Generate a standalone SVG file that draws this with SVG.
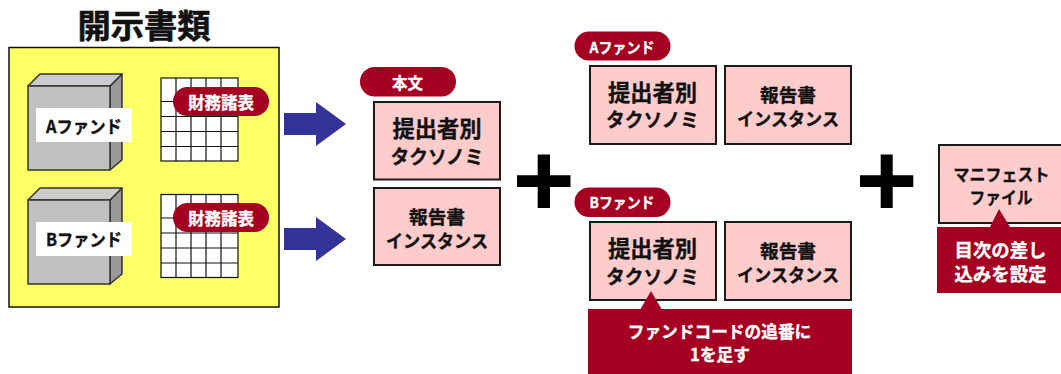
<svg xmlns="http://www.w3.org/2000/svg" width="1061" height="374" viewBox="0 0 1061 374">
<style>
text{font-family:"Noto Sans CJK JP","Noto Sans",sans-serif;font-weight:700;text-anchor:middle;fill:#111;stroke:#111;stroke-width:.35px}
.w{fill:#fff;stroke:#fff}
.pill{fill:#a50021}
.box{fill:#ffcccc;stroke:#1a1a1a;stroke-width:2}
.t1{font-size:22.3px}
.t1k{font-size:19.300px}
.t2{font-size:18.700px}
.t2k{font-size:17.800px}
.p{font-size:16.500px}
.pk{font-size:15px}
.n{font-size:16.700px}
.m{font-size:18.400px}
.f{font-size:17.500px}
.mf{font-size:17px}
.cube{stroke:#333;stroke-width:1.5;stroke-linejoin:round}
.grid{fill:#fff;stroke:#111;stroke-width:1.2}
.grid path{fill:none}
.arrow{fill:#333399}
</style>
<defs>
<g id="grid-shape" class="grid">
<rect x="161" y="0" width="77" height="83"/>
<path d="M176 0V83M191 0V83M206 0V83M221 0V83M161 23.5H238M161 38.5H238M161 53.5H238M161 68.5H238"/>
</g>
<g id="cube-shape" class="cube">
<path d="M110 12L122 0V86L110 96Z" fill="#999999"/>
<path d="M28 12L40 0H122L110 12Z" fill="#cccccc"/>
<rect x="28" y="12" width="82" height="84" fill="#c0c0c0"/>
</g>
</defs>
<g id="title"><text x="144" y="37.500" style="font-size:33.300px;stroke-width:.6px">開示書類</text></g>
<g id="disclosure"><rect x="9" y="47.500" width="270" height="259.500" fill="#ffff66" stroke="#111" stroke-width="1.500"/></g>
<g id="fund-a">
<use href="#cube-shape" y="74"/>
<rect x="36" y="108" width="96" height="34" fill="#fff"/>
<text class="f" x="84" y="133" textLength="76" lengthAdjust="spacingAndGlyphs">Aファンド</text>
</g>
<g id="fund-b">
<use href="#cube-shape" y="188"/>
<rect x="36" y="222" width="96" height="34" fill="#fff"/>
<text class="f" x="84" y="246" textLength="76" lengthAdjust="spacingAndGlyphs">Bファンド</text>
</g>
<g id="statement-a">
<use href="#grid-shape" y="78"/>
<rect class="pill" x="173" y="87" width="96" height="29" rx="14.500"/>
<text class="w p" x="221" y="109.300">財務諸表</text>
</g>
<g id="statement-b">
<use href="#grid-shape" y="194.500"/>
<rect class="pill" x="173" y="203" width="96" height="29" rx="14.500"/>
<text class="w p" x="221" y="225">財務諸表</text>
</g>
<g id="connectors">
<path class="arrow" d="M284 113H316V102L346 124L316 146V135H284Z"/>
<path class="arrow" d="M284 228H316V217L346 239L316 261V250H284Z"/>
<path d="M537.700 154.500H550V175.300H570.500V187H550V208H537.700V187H517V175.300H537.700Z" fill="#000"/>
<path d="M880.700 154.500H892.700V175.300H913.300V187H892.700V208H880.700V187H860V175.300H880.700Z" fill="#000"/>
</g>
<g id="honbun-label">
<rect class="pill" x="360" y="67" width="96" height="29.500" rx="14.700"/>
<text class="w" style="font-size:15.500px" x="407.500" y="89">本文</text>
</g>
<g id="taxonomy-main">
<rect class="box" x="374" y="102" width="126" height="77.500"/>
<text class="t1" x="437" y="137">提出者別</text><text class="t1k" x="437" y="163.500" textLength="93" lengthAdjust="spacingAndGlyphs">タクソノミ</text>
</g>
<g id="instance-main">
<rect class="box" x="374" y="188" width="126" height="77"/>
<text class="t2" x="437" y="223.500">報告書</text><text class="t2k" x="437" y="247.500" textLength="102" lengthAdjust="spacingAndGlyphs">インスタンス</text>
</g>
<g id="a-label">
<rect class="pill" x="574.500" y="31.500" width="96" height="29" rx="14.500"/>
<text class="w pk" x="622" y="52.500" textLength="65" lengthAdjust="spacingAndGlyphs">Aファンド</text>
</g>
<g id="taxonomy-a">
<rect class="box" x="590" y="66" width="126" height="78"/>
<text class="t1" x="652.500" y="100.500">提出者別</text><text class="t1k" x="652.500" y="127" textLength="93" lengthAdjust="spacingAndGlyphs">タクソノミ</text>
</g>
<g id="instance-a">
<rect class="box" x="725" y="66" width="126" height="78"/>
<text class="t2" x="788" y="102">報告書</text><text class="t2k" x="788" y="126" textLength="102" lengthAdjust="spacingAndGlyphs">インスタンス</text>
</g>
<g id="b-label">
<rect class="pill" x="574.500" y="187.500" width="96" height="29.500" rx="14.700"/>
<text class="w pk" x="622" y="208" textLength="65" lengthAdjust="spacingAndGlyphs">Bファンド</text>
</g>
<g id="taxonomy-b">
<rect class="box" x="590" y="222" width="126" height="78"/>
<text class="t1" x="652.500" y="256.500">提出者別</text><text class="t1k" x="652.500" y="283.500" textLength="93" lengthAdjust="spacingAndGlyphs">タクソノミ</text>
</g>
<g id="instance-b">
<rect class="box" x="725" y="222" width="126" height="78"/>
<text class="t2" x="788" y="258">報告書</text><text class="t2k" x="788" y="282" textLength="102" lengthAdjust="spacingAndGlyphs">インスタンス</text>
</g>
<g id="note-b">
<path class="pill" d="M588 309H640.500L651 291L661.500 309H852V374H588Z"/>
<text class="w n" x="719.500" y="338">ファンドコードの追番に</text>
<text class="w n" x="720" y="361">1を足す</text>
</g>
<g id="manifest">
<rect class="box" x="939" y="145" width="123" height="78"/>
<text class="mf" x="1001.500" y="181" textLength="96" lengthAdjust="spacingAndGlyphs">マニフェスト</text><text class="mf" x="1001" y="204" textLength="63" lengthAdjust="spacingAndGlyphs">ファイル</text>
</g>
<g id="note-manifest">
<path class="pill" d="M937 227H990L999 209L1010 227H1061V293H937Z"/>
<text class="w m" x="1000.500" y="257">目次の差し</text>
<text class="w m" x="1000.500" y="281">込みを設定</text>
</g>
</svg>
